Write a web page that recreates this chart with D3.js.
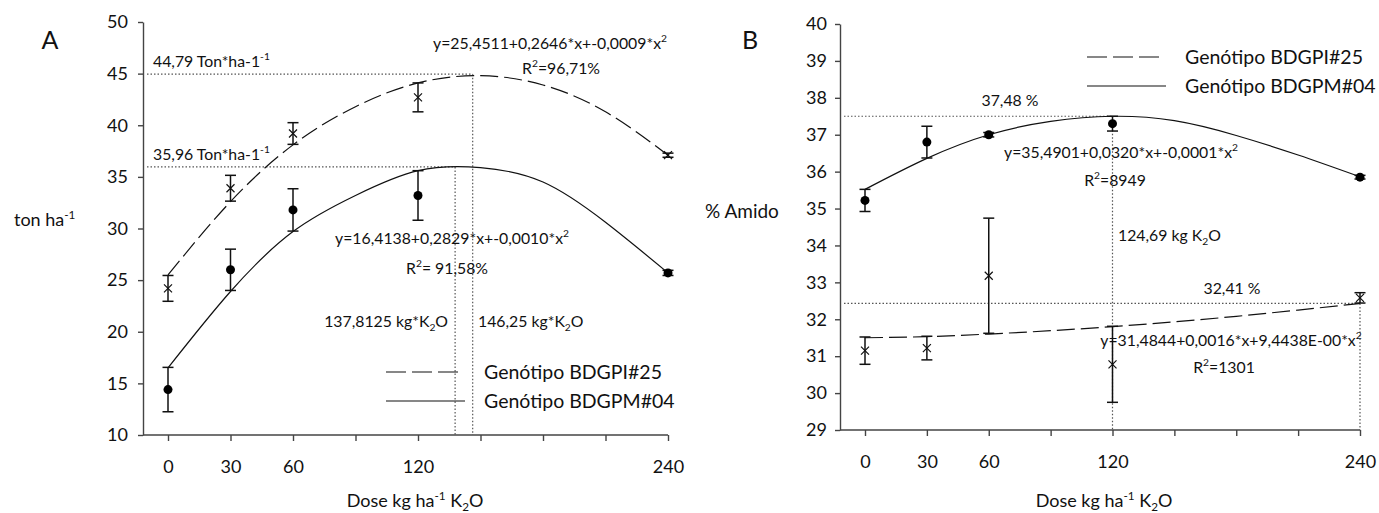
<!DOCTYPE html>
<html>
<head>
<meta charset="utf-8">
<script src="https://cdn.jsdelivr.net/npm/d3@7"></script>
<style>
    body { margin: 0; background: #fff; }
    svg text { font-family: Lato, 'Open Sans', sans-serif; fill: #111; }
    .axis path, .axis line { stroke: #444; stroke-width: 1.4; }
    .axis text { font-size: 18px; fill: #111; }
    .note { font-size: 15.8px; }
    .legend { font-size: 19.5px; }
    .title { font-size: 18px; }
</style>
</head>
<body>
<svg id="chart" width="1379" height="513"></svg>
<script>

// K2O doses (kg/ha) and x axis ticks
var doses = [0, 30, 60, 120, 240];
var doseTicks = [0, 30, 60, 90, 120, 150, 180, 210, 240];
var doseTickLabels = ['0', '30', '60', '', '120', '', '', '', '240'];

// A - yield (ton/ha)
var yieldTicks = [10, 15, 20, 25, 30, 35, 40, 45, 50];
var yieldPI25 = [24.2, 33.9, 39.2, 42.7, 37.1];
var yieldPI25Err = [1.25, 1.25, 1.05, 1.4, 0.2];
var yieldPM04 = [14.4, 26.0, 31.8, 33.2, 25.7];
var yieldPM04Err = [2.15, 2.0, 2.05, 2.4, 0.25];
// fitted curves at each doseTick
var yieldFitPI25 = [25.5, 32.6, 38.1, 41.8, 44.1, 44.8, 43.9, 41.3, 37.1];
var yieldFitPM04 = [16.5, 23.9, 29.7, 33.2, 35.6, 35.9, 34.5, 30.6, 25.7];
// optimum [dose, value]
var yieldOptPI25 = [146.25, 44.95];
var yieldOptPM04 = [137.81, 35.96];

// B - starch (%)
var starchTicks = [29, 30, 31, 32, 33, 34, 35, 36, 37, 38, 39, 40];
var starchPI25 = [31.15, 31.22, 33.18, 30.78, 32.58];
var starchPI25Err = [0.37, 0.32, 1.56, 1.03, 0.14];
var starchPM04 = [35.22, 36.8, 37.0, 37.3, 35.85];
var starchPM04Err = [0.3, 0.43, 0.06, 0.2, 0.05];
var starchFitPI25 = [31.5, 31.53, 31.6, 31.69, 31.8, 31.93, 32.08, 32.25, 32.43];
var starchFitPM04 = [35.52, 36.36, 37.0, 37.36, 37.5, 37.38, 36.98, 36.45, 35.86];
var starchOptPM04 = [120, 37.5];
var starchOptPI25 = [240, 32.43];


/**
 * DosePanel
 * @param _svg    -- root svg selection
 * @param _config -- placement, domain and series of the panel
 */
DosePanel = function(_svg, _config) {
    this.root = _svg;
    this.config = _config;
    this.initVis();
}

DosePanel.prototype.initVis = function() {
    var vis = this;
    var c = vis.config;

    vis.svg = vis.root.append('g')
        .attr('transform', 'translate(' + c.left + ',' + c.top + ')');

    vis.x = d3.scaleLinear().domain([0, 240]).range([c.x0, c.width]);
    vis.y = d3.scaleLinear().domain(c.yDomain).range([c.height, 0]);

    // Axes
    var xAxis = d3.axisBottom(vis.x)
        .tickValues(doseTicks)
        .tickFormat(function(d, i) { return doseTickLabels[i]; })
        .tickSizeInner(6)
        .tickSizeOuter(0)
        .tickPadding(19);

    var yAxis = d3.axisLeft(vis.y)
        .tickValues(c.yTicks)
        .tickSizeInner(5)
        .tickSizeOuter(0)
        .tickPadding(c.yPad);

    vis.svg.append('g')
        .attr('class', 'x-axis axis')
        .attr('transform', 'translate(0,' + c.height + ')')
        .call(xAxis)
        .select('.domain').remove();

    // x axis line starts at the y axis
    vis.svg.append('line')
        .attr('x1', 0).attr('x2', c.width)
        .attr('y1', c.height).attr('y2', c.height)
        .attr('stroke', '#444').attr('stroke-width', 1.4);

    vis.svg.append('g')
        .attr('class', 'y-axis axis')
        .call(yAxis);

    // Dotted guides to the optima
    c.optima.forEach(function(o) {
        vis.svg.append('line')
            .attr('x1', 4).attr('x2', vis.x(o[0]))
            .attr('y1', vis.y(o[1])).attr('y2', vis.y(o[1]))
            .attr('stroke', '#555').attr('stroke-width', 1.2)
            .attr('stroke-dasharray', '1.5,2');
        vis.svg.append('line')
            .attr('x1', vis.x(o[0])).attr('x2', vis.x(o[0]))
            .attr('y1', vis.y(o[1])).attr('y2', c.height)
            .attr('stroke', '#555').attr('stroke-width', 1.2)
            .attr('stroke-dasharray', '1.5,2');
    });

    var line = d3.line()
        .x(function(d) { return vis.x(d[0]); })
        .y(function(d) { return vis.y(d[1]); })
        .curve(d3.curveNatural);

    c.series.forEach(function(s) {
        // Fitted curve
        vis.svg.append('path')
            .datum(doseTicks.map(function(d, i) { return [d, s.fit[i]]; }))
            .attr('fill', 'none')
            .attr('stroke', '#111')
            .attr('stroke-width', 1.2)
            .attr('stroke-dasharray', s.dashed ? '18,6' : null)
            .attr('d', line);

        var pts = doses.map(function(d, i) { return { dose: d, v: s.mean[i], e: s.err[i] }; });

        // Error bars
        var bars = vis.svg.append('g').selectAll('g')
            .data(pts)
            .enter()
            .append('g')
            .attr('stroke', '#111')
            .attr('stroke-width', 1.5);

        bars.append('line')
            .attr('x1', function(d) { return vis.x(d.dose); })
            .attr('x2', function(d) { return vis.x(d.dose); })
            .attr('y1', function(d) { return vis.y(d.v - d.e); })
            .attr('y2', function(d) { return vis.y(d.v + d.e); });

        [-1, 1].forEach(function(sign) {
            bars.append('line')
                .attr('x1', function(d) { return vis.x(d.dose) - 5.5; })
                .attr('x2', function(d) { return vis.x(d.dose) + 5.5; })
                .attr('y1', function(d) { return vis.y(d.v + sign * d.e); })
                .attr('y2', function(d) { return vis.y(d.v + sign * d.e); });
        });

        // Markers
        if (s.marker === 'dot') {
            vis.svg.append('g').selectAll('circle')
                .data(pts)
                .enter()
                .append('circle')
                .attr('r', 4.5)
                .attr('fill', '#000')
                .attr('cx', function(d) { return vis.x(d.dose); })
                .attr('cy', function(d) { return vis.y(d.v); });
        } else {
            vis.svg.append('g').selectAll('path')
                .data(pts)
                .enter()
                .append('path')
                .attr('d', 'M-4,-4L4,4M-4,4L4,-4')
                .attr('stroke', '#111')
                .attr('stroke-width', 1.2)
                .attr('transform', function(d) {
                    return 'translate(' + vis.x(d.dose) + ',' + vis.y(d.v) + ')';
                });
        }
    });
}


// Text with sub/superscripts: parts = [[text, 'sup'|'sub'|null], ...]
function richText(svg, x, y, parts, cls, anchor) {
    var t = svg.append('text')
        .attr('class', cls)
        .attr('x', x)
        .attr('y', y)
        .attr('text-anchor', anchor || 'start');
    var shift = 0;
    parts.forEach(function(p) {
        var s = p[1] === 'sup' ? -7 : (p[1] === 'sub' ? 4 : 0);
        t.append('tspan')
            .attr('dy', s - shift)
            .style('font-size', p[1] ? '0.65em' : null)
            .text(p[0]);
        shift = s;
    });
    return t;
}

function legend(svg, x, y) {
    svg.append('line')
        .attr('x1', x).attr('x2', x + 72).attr('y1', y).attr('y2', y)
        .attr('stroke', '#111').attr('stroke-width', 1.2)
        .attr('stroke-dasharray', '20,6');
    svg.append('line')
        .attr('x1', x).attr('x2', x + 79).attr('y1', y + 29).attr('y2', y + 29)
        .attr('stroke', '#111').attr('stroke-width', 1.2);
    svg.append('text').attr('class', 'legend')
        .attr('x', x + 98).attr('y', y + 7).text('Genótipo BDGPI#25');
    svg.append('text').attr('class', 'legend')
        .attr('x', x + 98).attr('y', y + 36).text('Genótipo BDGPM#04');
}


var svg = d3.select('#chart');

var panelA = new DosePanel(svg, {
    left: 143, top: 22, width: 525, height: 413, x0: 25, yPad: 10,
    yDomain: [10, 50], yTicks: yieldTicks,
    optima: [yieldOptPI25, yieldOptPM04],
    series: [
        { mean: yieldPI25, err: yieldPI25Err, fit: yieldFitPI25, marker: 'cross', dashed: true },
        { mean: yieldPM04, err: yieldPM04Err, fit: yieldFitPM04, marker: 'dot', dashed: false }
    ]
});

var panelB = new DosePanel(svg, {
    left: 840, top: 24, width: 520, height: 406, x0: 25, yPad: 8,
    yDomain: [29, 40], yTicks: starchTicks,
    optima: [starchOptPM04, starchOptPI25],
    series: [
        { mean: starchPI25, err: starchPI25Err, fit: starchFitPI25, marker: 'cross', dashed: true },
        { mean: starchPM04, err: starchPM04Err, fit: starchFitPM04, marker: 'dot', dashed: false }
    ]
});

// Panel A labels
svg.append('text').attr('x', 50).attr('y', 49).attr('text-anchor', 'middle')
    .style('font-size', '25px').text('A');
richText(svg, 14, 226, [['ton ha', null], ['-1', 'sup']], 'title');
richText(svg, 415, 507, [['Dose kg ha', null], ['-1', 'sup'], [' K', null], ['2', 'sub'], ['O', null]], 'title', 'middle');
richText(svg, 153, 67, [['44,79 Ton*ha-1', null], ['-1', 'sup']], 'note');
richText(svg, 153, 160, [['35,96 Ton*ha-1', null], ['-1', 'sup']], 'note');
richText(svg, 550, 49, [['y=25,4511+0,2646*x+-0,0009*x', null], ['2', 'sup']], 'note', 'middle');
richText(svg, 561, 74, [['R', null], ['2', 'sup'], ['=96,71%', null]], 'note', 'middle');
richText(svg, 452, 244, [['y=16,4138+0,2829*x+-0,0010*x', null], ['2', 'sup']], 'note', 'middle');
richText(svg, 447, 274, [['R', null], ['2', 'sup'], ['= 91,58%', null]], 'note', 'middle');
richText(svg, 448, 327, [['137,8125 kg*K', null], ['2', 'sub'], ['O', null]], 'note', 'end');
richText(svg, 478, 327, [['146,25 kg*K', null], ['2', 'sub'], ['O', null]], 'note');
legend(svg, 386, 372);

// Panel B labels
svg.append('text').attr('x', 750).attr('y', 49).attr('text-anchor', 'middle')
    .style('font-size', '25px').text('B');
svg.append('text').attr('class', 'title').attr('x', 705).attr('y', 218)
    .style('font-size', '19px').text('% Amido');
richText(svg, 1104, 507, [['Dose kg ha', null], ['-1', 'sup'], [' K', null], ['2', 'sub'], ['O', null]], 'title', 'middle');
richText(svg, 1010, 106, [['37,48 %', null]], 'note', 'middle');
richText(svg, 1121, 158, [['y=35,4901+0,0320*x+-0,0001*x', null], ['2', 'sup']], 'note', 'middle');
richText(svg, 1115, 186, [['R', null], ['2', 'sup'], ['=8949', null]], 'note', 'middle');
richText(svg, 1118, 241, [['124,69 kg K', null], ['2', 'sub'], ['O', null]], 'note');
richText(svg, 1232, 294, [['32,41 %', null]], 'note', 'middle');
richText(svg, 1231, 346, [['y=31,4844+0,0016*x+9,4438E-00*x', null], ['2', 'sup']], 'note', 'middle');
richText(svg, 1224, 373, [['R', null], ['2', 'sup'], ['=1301', null]], 'note', 'middle');
legend(svg, 1087, 57);

</script>
</body>
</html>
